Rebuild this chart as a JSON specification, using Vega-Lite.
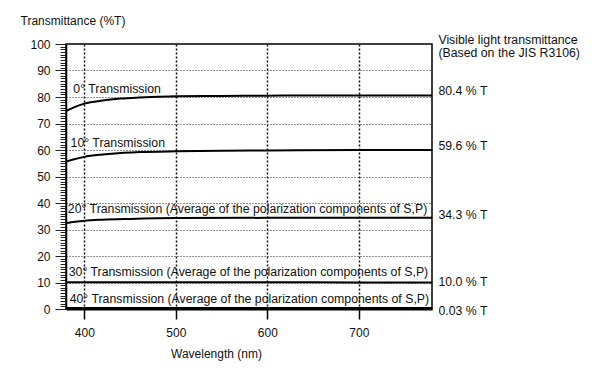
{
  "$schema": "https://vega.github.io/schema/vega-lite/v6.json",
  "width": 366,
  "height": 265,
  "autosize": {"type": "none"},
  "padding": {"left": 66, "top": 44, "right": 168, "bottom": 60},
  "background": "white",
  "config": {
    "view": {"stroke": "black", "strokeWidth": 1.5},
    "font": "Liberation Sans",
    "text": {"font": "Liberation Sans", "fontSize": 12.3, "color": "#111"}
  },
  "datasets": {
    "curves": [
      {"s": "0", "wl": 380, "t": 74.7}, {"s": "0", "wl": 390, "t": 76.3}, {"s": "0", "wl": 400, "t": 77.5}, {"s": "0", "wl": 420, "t": 78.7}, {"s": "0", "wl": 440, "t": 79.4}, {"s": "0", "wl": 460, "t": 79.8}, {"s": "0", "wl": 480, "t": 80.1}, {"s": "0", "wl": 500, "t": 80.3}, {"s": "0", "wl": 550, "t": 80.4}, {"s": "0", "wl": 600, "t": 80.5}, {"s": "0", "wl": 650, "t": 80.6}, {"s": "0", "wl": 700, "t": 80.6}, {"s": "0", "wl": 750, "t": 80.6}, {"s": "0", "wl": 780, "t": 80.6},
      {"s": "10", "wl": 380, "t": 55.6}, {"s": "10", "wl": 390, "t": 56.6}, {"s": "10", "wl": 400, "t": 57.4}, {"s": "10", "wl": 420, "t": 58.3}, {"s": "10", "wl": 440, "t": 58.9}, {"s": "10", "wl": 460, "t": 59.2}, {"s": "10", "wl": 500, "t": 59.5}, {"s": "10", "wl": 550, "t": 59.7}, {"s": "10", "wl": 600, "t": 59.8}, {"s": "10", "wl": 700, "t": 60.0}, {"s": "10", "wl": 780, "t": 60.0},
      {"s": "20", "wl": 380, "t": 32.4}, {"s": "20", "wl": 390, "t": 32.9}, {"s": "20", "wl": 400, "t": 33.3}, {"s": "20", "wl": 420, "t": 33.7}, {"s": "20", "wl": 450, "t": 34.0}, {"s": "20", "wl": 500, "t": 34.3}, {"s": "20", "wl": 600, "t": 34.4}, {"s": "20", "wl": 700, "t": 34.4}, {"s": "20", "wl": 780, "t": 34.4},
      {"s": "30", "wl": 380, "t": 10.1}, {"s": "30", "wl": 500, "t": 10.1}, {"s": "30", "wl": 600, "t": 10.1}, {"s": "30", "wl": 700, "t": 10.0}, {"s": "30", "wl": 780, "t": 10.0},
      {"s": "40", "wl": 380, "t": 0.4}, {"s": "40", "wl": 500, "t": 0.4}, {"s": "40", "wl": 600, "t": 0.4}, {"s": "40", "wl": 700, "t": 0.4}, {"s": "40", "wl": 780, "t": 0.4}
    ],
    "labels": [
      {"wl": 388, "t": 82.9, "label": "0° Transmission"},
      {"wl": 385, "t": 62.5, "label": "10° Transmission"},
      {"wl": 382, "t": 37.6, "label": "20° Transmission (Average of the polarization components of S,P)"},
      {"wl": 383, "t": 13.8, "label": "30° Transmission (Average of the polarization components of S,P)"},
      {"wl": 384, "t": 3.6, "label": "40° Transmission (Average of the polarization components of S,P)"}
    ],
    "right": [
      {"wl": 787, "t": 101.6, "label": "Visible light transmittance"},
      {"wl": 787, "t": 96.6, "label": "(Based on the JIS R3106)"},
      {"wl": 787, "t": 82.3, "label": "80.4 % T"},
      {"wl": 787, "t": 61.5, "label": "59.6 % T"},
      {"wl": 787, "t": 35.5, "label": "34.3 % T"},
      {"wl": 787, "t": 10.2, "label": "10.0 % T"},
      {"wl": 787, "t": -0.8, "label": "0.03 % T"}
    ]
  },
  "encoding": {
    "x": {
      "field": "wl", "type": "quantitative",
      "scale": {"domain": [380, 780], "nice": false, "zero": false},
      "axis": {
        "values": [400, 500, 600, 700],
        "title": "Wavelength (nm)",
        "titleFont": "Liberation Sans", "titleFontSize": 12, "titleFontWeight": "normal", "titleColor": "#111",
        "titleX": 150, "titleY": 39, "titleBaseline": "top",
        "labelFont": "Liberation Sans", "labelFontSize": 12, "labelColor": "#111", "labelPadding": 8,
        "tickSize": 10, "tickColor": "black", "tickWidth": 1.5,
        "domainColor": "black", "domainWidth": 2,
        "grid": true, "gridColor": "#111", "gridDash": [2, 2], "gridWidth": 1.5
      }
    },
    "y": {
      "field": "t", "type": "quantitative",
      "scale": {"domain": [0, 100], "nice": false},
      "axis": {
        "values": [0,1,2,3,4,5,6,7,8,9,10,11,12,13,14,15,16,17,18,19,20,21,22,23,24,25,26,27,28,29,30,31,32,33,34,35,36,37,38,39,40,41,42,43,44,45,46,47,48,49,50,51,52,53,54,55,56,57,58,59,60,61,62,63,64,65,66,67,68,69,70,71,72,73,74,75,76,77,78,79,80,81,82,83,84,85,86,87,88,89,90,91,92,93,94,95,96,97,98,99,100],
        "labelExpr": "datum.value % 10 === 0 ? datum.label : ''",
        "labelFont": "Liberation Sans", "labelFontSize": 12, "labelColor": "#111", "labelPadding": 5,
        "labelOverlap": false,
        "tickSize": {"condition": {"test": "datum.value % 10 === 0", "value": 11}, "value": 6},
        "tickColor": "#222", "tickWidth": 1,
        "domainColor": "black", "domainWidth": 1.5,
        "grid": true,
        "gridOpacity": {"condition": {"test": "datum.value % 10 === 0 && datum.value > 0 && datum.value < 100", "value": 1}, "value": 0},
        "gridColor": "#222", "gridDash": [1, 2], "gridWidth": 1,
        "title": "Transmittance (%T)",
        "titleFont": "Liberation Sans", "titleFontSize": 12, "titleFontWeight": "normal", "titleColor": "#111",
        "titleAngle": 0, "titleAlign": "left", "titleBaseline": "middle", "titleX": -46, "titleY": -24
      }
    }
  },
  "layer": [
    {
      "data": {"name": "curves"},
      "mark": {"type": "line", "color": "black", "strokeWidth": 2, "interpolate": "monotone"},
      "encoding": {"detail": {"field": "s", "type": "nominal"}}
    },
    {
      "data": {"name": "labels"},
      "mark": {"type": "text", "align": "left", "baseline": "middle"},
      "encoding": {"text": {"field": "label"}}
    },
    {
      "data": {"name": "right"},
      "mark": {"type": "text", "align": "left", "baseline": "middle"},
      "encoding": {"text": {"field": "label"}}
    }
  ]
}
